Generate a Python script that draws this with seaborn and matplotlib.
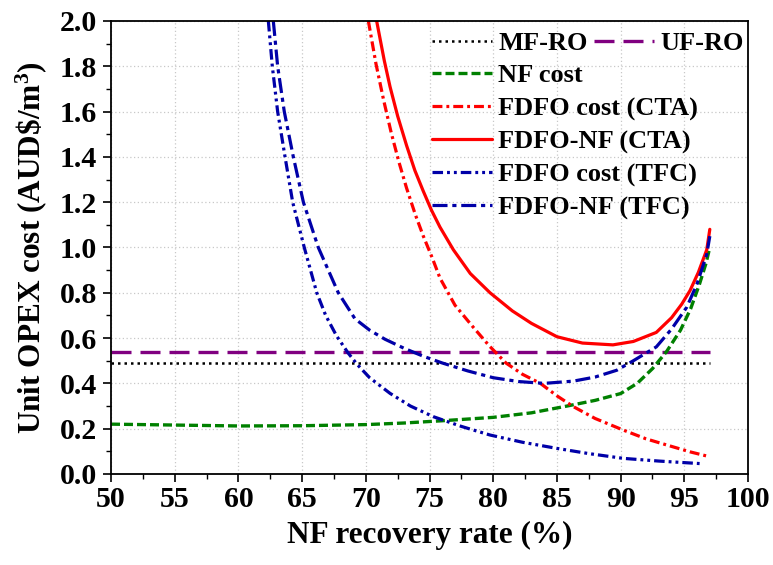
import matplotlib
matplotlib.use("Agg")
import matplotlib.pyplot as plt
import seaborn as sns
import pandas as pd
from matplotlib.ticker import MultipleLocator

# ---------------- data ----------------
mf_x = [50, 97]
mf_y = [0.49, 0.49]
uf_x = [50, 97]
uf_y = [0.54, 0.54]

nf_x = [50, 55, 60, 65, 70, 73, 76, 80, 83, 85.8, 88, 90, 91.3, 92.5, 93.6, 94.7, 95.5, 96.2,
        96.7, 97]
nf_y = [0.22, 0.216, 0.212, 0.213, 0.218, 0.225, 0.235, 0.25, 0.27, 0.30, 0.325, 0.355, 0.40,
        0.465, 0.54, 0.635, 0.73, 0.84, 0.93, 1.0]

cta_cost_x = [70.2, 70.8, 71.4, 72.0, 72.6, 73.2, 73.9, 74.5, 75.2, 75.82, 77.0, 78.4,
              79.7, 81.0, 82.3, 83.7, 85.0, 86.3, 88.0, 90.2, 92.0, 94.1, 95.5, 97.0]
cta_cost_y = [2.0, 1.81, 1.65, 1.505, 1.377, 1.262, 1.143, 1.052, 0.956, 0.865, 0.745, 0.65,
              0.565, 0.49, 0.44, 0.40, 0.345, 0.297, 0.245, 0.194, 0.155, 0.12, 0.097, 0.076]

cta_nf_x = [70.85, 71.45, 71.9, 72.5, 73.2, 73.85, 74.5, 75.15, 75.82, 76.87, 78.2, 79.75,
            81.5, 83.0, 85.0, 87.0, 89.4, 91.0, 92.8, 94.0, 94.8, 95.45, 96.1, 96.76, 97.0]
cta_nf_y = [2.0, 1.825, 1.71, 1.58, 1.45, 1.34, 1.25, 1.165, 1.09, 0.99, 0.885, 0.80,
            0.72, 0.665, 0.606, 0.578, 0.57, 0.585, 0.625, 0.69, 0.75, 0.81, 0.89, 0.99, 1.08]

tfc_cost_x = [62.35, 62.66, 63.08, 63.66, 64.26, 65.17, 66.15, 66.85, 67.7, 68.6, 69.3, 70.3,
              71.9, 73.5, 75.3, 77.5, 79.75, 82.3, 85.0, 87.5, 90.2, 93.0, 96.2]
tfc_cost_y = [2.0, 1.8, 1.6, 1.4, 1.2, 1.0, 0.80, 0.70, 0.61, 0.535, 0.485, 0.425, 0.356,
              0.30, 0.253, 0.21, 0.172, 0.14, 0.113, 0.09, 0.069, 0.057, 0.046]

tfc_nf_x = [62.74, 63.08, 63.6, 64.31, 65.1, 66.27, 67.84, 69.15, 70.3, 71.5, 73.0, 74.5, 76.0,
            78.0, 80.0, 82.0, 84.0, 86.3, 88.0, 89.7, 91.0, 92.8, 94.0, 95.2, 96.0, 96.76,
            97.0]
tfc_nf_y = [2.0, 1.8, 1.6, 1.4, 1.2, 1.0, 0.8, 0.685, 0.635, 0.595, 0.555, 0.52, 0.49,
            0.455, 0.425, 0.408, 0.40, 0.41, 0.428, 0.458, 0.50, 0.561, 0.64, 0.737, 0.84,
            0.97, 1.05]

x_ticks = list(range(50, 101, 5))
y_ticks = [0.0, 0.2, 0.4, 0.6, 0.8, 1.0, 1.2, 1.4, 1.6, 1.8, 2.0]

# ---------------- style ----------------
sns.set_theme(style="ticks")
plt.rcParams['font.family'] = ['Liberation Serif', 'DejaVu Serif']
plt.rcParams['font.weight'] = 'bold'
plt.rcParams['axes.labelweight'] = 'bold'
plt.rcParams['text.color'] = 'black'
plt.rcParams['axes.labelcolor'] = 'black'
plt.rcParams['xtick.color'] = 'black'
plt.rcParams['ytick.color'] = 'black'
plt.rcParams['mathtext.fontset'] = 'custom'
plt.rcParams['mathtext.rm'] = 'Liberation Serif:bold'
plt.rcParams['mathtext.default'] = 'rm'

fig = plt.figure(figsize=(7.73, 5.65), dpi=100)
ax = fig.add_axes([0.1436, 0.1611, 0.8241, 0.8018])

BLUE = "#0000A8"
series = [
    ("MF-RO", mf_x, mf_y, "black", (0, (1, 1.6)), 1.8),
    ("UF-RO", uf_x, uf_y, "#800080", (0, (6, 2.7)), 2.4),
    ("NF cost", nf_x, nf_y, "#008000", (0, (2.7, 1.2)), 2.4),
    ("FDFO cost (CTA)", cta_cost_x, cta_cost_y, "#FF0000", (0, (3.1, 1.25, 0.9, 1.25)), 2.3),
    ("FDFO-NF (CTA)", cta_nf_x, cta_nf_y, "#FF0000", "-", 2.3),
    ("FDFO cost (TFC)", tfc_cost_x, tfc_cost_y, BLUE,
     (0, (3.3, 1.25, 0.9, 1.25, 0.9, 1.25)), 2.3),
    ("FDFO-NF (TFC)", tfc_nf_x, tfc_nf_y, BLUE, (0, (4.7, 1.5, 1.3, 1.5)), 2.3),
]

for name, xs, ys, col, ls, lw in series:
    df = pd.DataFrame({"x": xs, "y": ys})
    sns.lineplot(data=df, x="x", y="y", ax=ax, color=col, linestyle=ls, linewidth=lw,
                 sort=False, label=name, legend=False)

ax.set_xlim(50, 100)
ax.set_ylim(0, 2.0)
ax.set_xticks(x_ticks)
ax.set_yticks(y_ticks)
ax.set_xticklabels([str(v) for v in x_ticks])
ax.set_yticklabels([f"{v:.1f}" for v in y_ticks])
ax.xaxis.set_minor_locator(MultipleLocator(2.5))
ax.yaxis.set_minor_locator(MultipleLocator(0.1))
ax.tick_params(axis='both', which='major', direction='out', length=6, width=1.2,
               labelsize=21.5, colors='black')
ax.tick_params(axis='y', which='major', pad=4)
ax.tick_params(axis='x', which='major', pad=3)
ax.tick_params(axis='both', which='minor', direction='out', length=3.5, width=1.0)
for lab in ax.get_xticklabels() + ax.get_yticklabels():
    lab.set_fontweight('bold')

ax.grid(True, which='major', color='#c8c8c8', linestyle=(0, (1, 2)), linewidth=0.9)
for s in ax.spines.values():
    s.set_visible(True)
    s.set_color('black')
    s.set_linewidth(1.3)

ax.set_xlabel("NF recovery rate (%)", fontsize=22.5, fontweight='bold', labelpad=5,
              color='black')
ax.set_ylabel("Unit OPEX cost (AUD\\$/m$^3$)", fontsize=22.5, fontweight='bold', labelpad=8,
              color='black')

handles, labels = ax.get_legend_handles_labels()
leg_font = {'family': 'Liberation Serif', 'weight': 'bold', 'size': 19}
leg1 = ax.legend(handles[:2], labels[:2], ncol=2, loc='upper left',
                 bbox_to_anchor=(0.504, 0.977), frameon=False, prop=leg_font,
                 handlelength=2.27, handletextpad=0.23, columnspacing=0.25,
                 borderpad=0, borderaxespad=0, labelcolor='black')
ax.add_artist(leg1)
ax.legend(handles[2:], labels[2:], loc='upper left',
          bbox_to_anchor=(0.504, 0.905), frameon=False, prop=leg_font,
          handlelength=2.27, handletextpad=0.23, labelspacing=0.35,
          borderpad=0, borderaxespad=0, labelcolor='black')

fig.savefig("out.png", dpi=100)
